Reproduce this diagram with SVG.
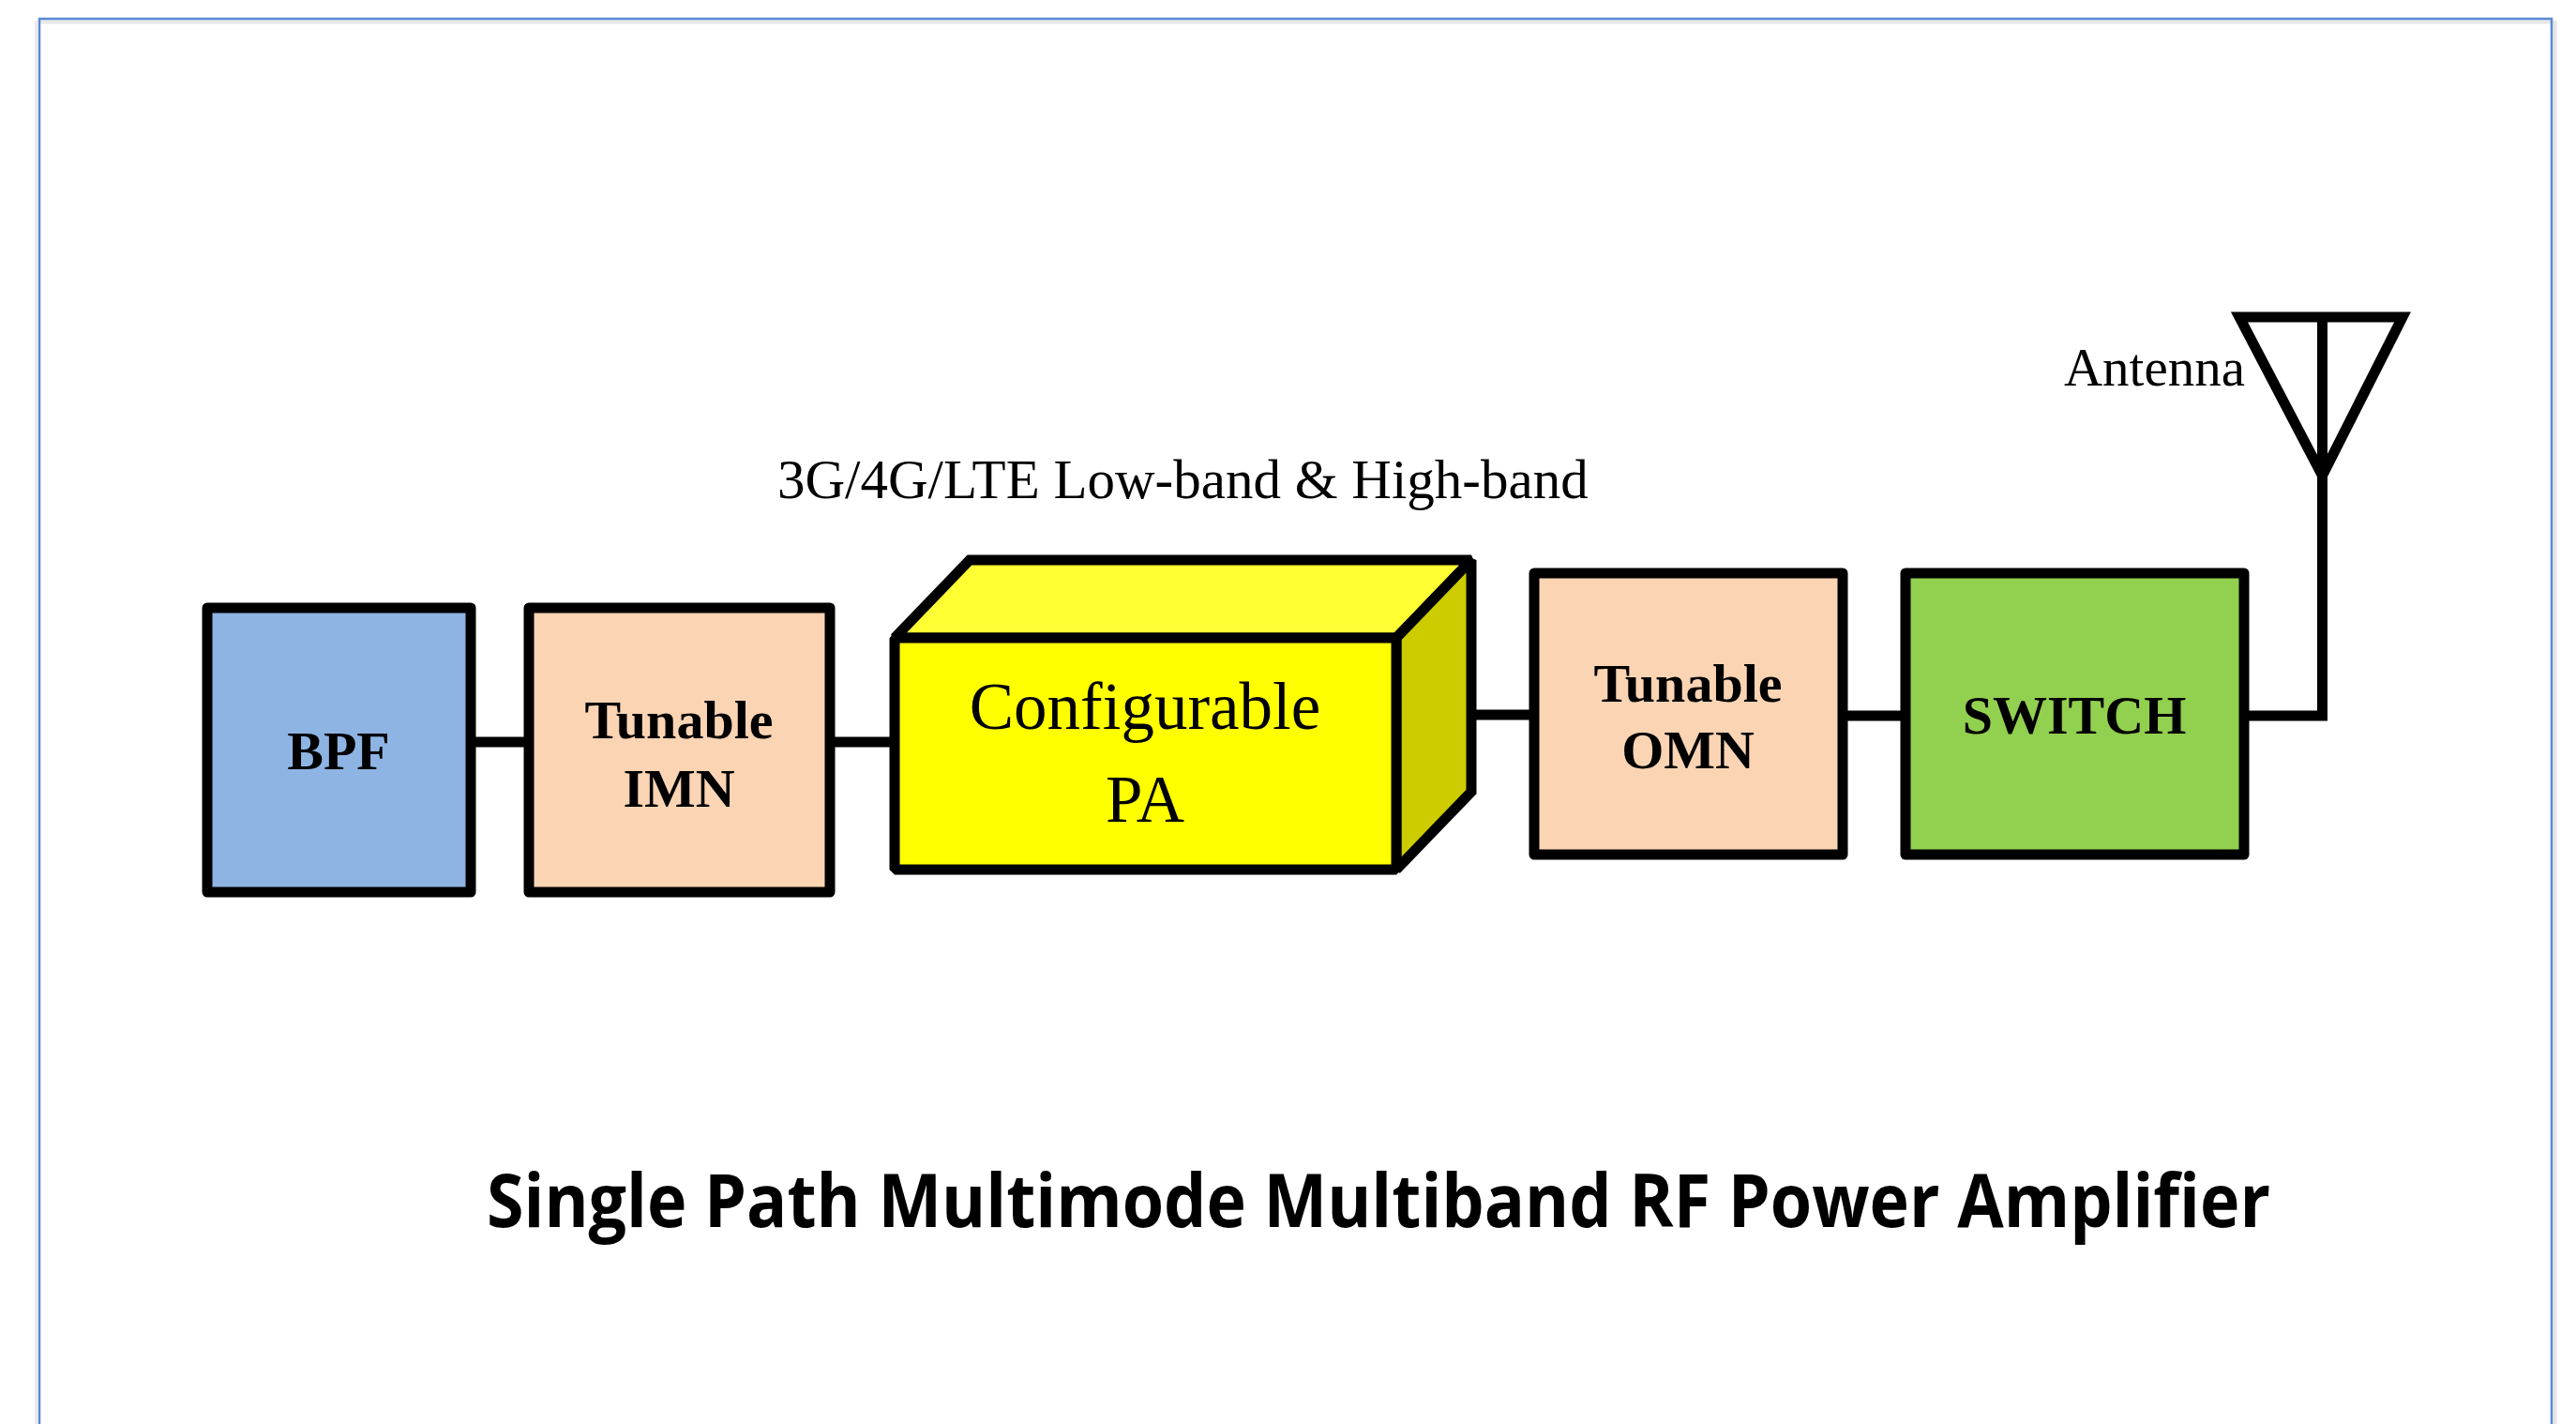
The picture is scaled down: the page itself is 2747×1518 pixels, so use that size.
<svg xmlns="http://www.w3.org/2000/svg" width="2747" height="1518" viewBox="0 0 2747 1518">
  <style>
    .box { stroke: #000; stroke-width: 11; stroke-linejoin: round; }
    .cube { stroke: #000; stroke-width: 11; stroke-linejoin: miter; stroke-miterlimit: 1.3; }
    .wire { fill: none; stroke: #000; stroke-width: 11; stroke-linejoin: miter; stroke-linecap: butt; }
    .lbl { font-family: "Liberation Serif", "Times New Roman", serif; font-weight: bold; font-size: 58px; text-anchor: middle; fill: #000; }
    .reg { font-family: "Liberation Serif", "Times New Roman", serif; font-weight: normal; fill: #000; }
    .title { font-family: "Open Sans", "Liberation Sans", sans-serif; font-weight: bold; font-size: 78px; fill: #000; }
  </style>
  <rect x="0" y="0" width="2747" height="1518" fill="#ffffff"/>
  <g id="frame">
    <line x1="43" y1="23" x2="2720" y2="23" stroke="#e8e8e8" stroke-width="5"/>
    <line x1="38.5" y1="22" x2="38.5" y2="1518" stroke="#ececec" stroke-width="3"/>
    <line x1="2724.5" y1="22" x2="2724.5" y2="1518" stroke="#e4e4e4" stroke-width="4"/>
    <path d="M42,1518 V20 H2721 V1518" fill="none" stroke="#5A8AD6" stroke-width="2.5"/>
  </g>
  <g id="connectors">
    <line class="wire" x1="502" y1="791" x2="564" y2="791"/>
    <line class="wire" x1="885" y1="791" x2="954" y2="791"/>
    <line class="wire" x1="1569" y1="762" x2="1636" y2="762"/>
    <line class="wire" x1="1965" y1="763" x2="2032" y2="763"/>
    <polyline class="wire" points="2393,763 2476.5,763 2476.5,338"/>
  </g>
  <g id="bpf">
    <rect class="box" x="221" y="648" width="281" height="303" fill="#8EB4E3"/>
    <text class="lbl" x="361" y="820" font-size="60">BPF</text>
  </g>
  <g id="imn">
    <rect class="box" x="564" y="648" width="321" height="303" fill="#FBD4B4"/>
    <text class="lbl" x="724" y="787">Tunable</text>
    <text class="lbl" x="724" y="860">IMN</text>
  </g>
  <g id="pa">
    <polygon class="cube" points="954,680 1034,597 1569,597 1489,680" fill="#FFFF33"/>
    <polygon class="cube" points="1489,680 1569,597 1569,844 1489,927" fill="#CCCC00"/>
    <rect class="cube" x="954" y="680" width="535" height="247" fill="#FFFF00" stroke-miterlimit="4"/>
    <text class="reg" x="1221" y="777" font-size="71" text-anchor="middle">Configurable</text>
    <text class="reg" x="1221" y="876" font-size="71" text-anchor="middle">PA</text>
  </g>
  <g id="omn">
    <rect class="box" x="1636" y="611" width="329" height="300" fill="#FBD4B4"/>
    <text class="lbl" x="1800" y="748">Tunable</text>
    <text class="lbl" x="1800" y="819">OMN</text>
  </g>
  <g id="switch">
    <rect class="box" x="2032" y="611" width="361" height="300" fill="#92D050"/>
    <text class="lbl" x="2212" y="782">SWITCH</text>
  </g>
  <g id="antenna">
    <polygon points="2388,338 2562,338 2476.5,507" fill="none" stroke="#000" stroke-width="11" stroke-linejoin="miter" stroke-miterlimit="4"/>
    <text class="reg" x="2394" y="411" font-size="57" text-anchor="end">Antenna</text>
  </g>
  <g id="band-label">
    <text class="reg" x="829" y="531" font-size="59">3G/4G/LTE Low-band &amp; High-band</text>
  </g>
  <g id="title">
    <text class="title" x="519" y="1308" textLength="1902" lengthAdjust="spacingAndGlyphs">Single Path Multimode Multiband RF Power Amplifier</text>
  </g>
</svg>
